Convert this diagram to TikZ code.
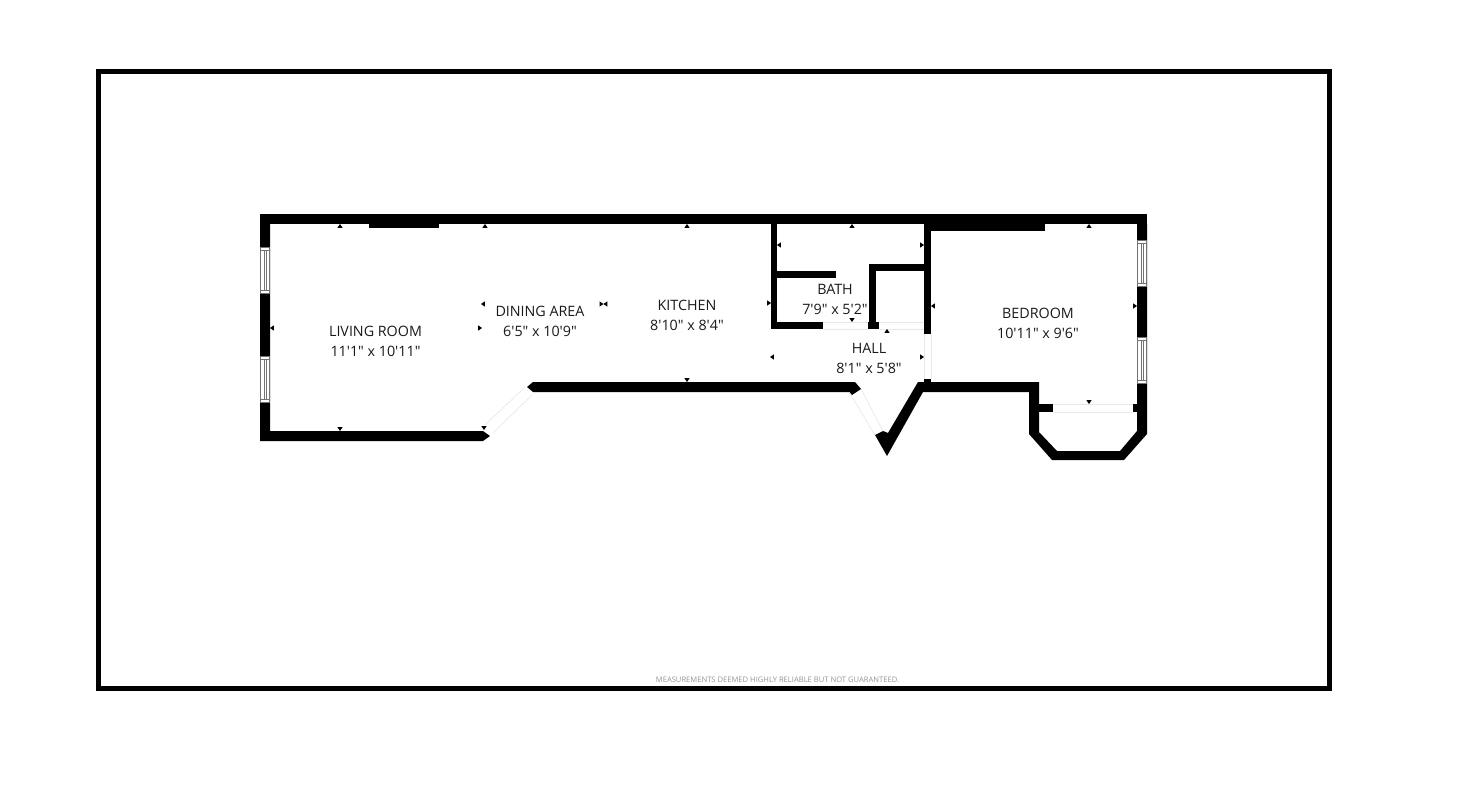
\documentclass[tikz,border=0pt]{standalone}
\usepackage{fontspec}
\newfontfamily\planfont{Open Sans}
\definecolor{doorgrey}{gray}{0.91}
\definecolor{sashgrey}{gray}{0.45}
\tikzset{
  wall/.style={fill=black},
  door/.style={draw=doorgrey,line width=0.7pt},
  room/.style={align=center,inner sep=0pt,text=black!90,font=\planfont\fontsize{14.3}{20}\selectfont},
  note/.style={inner sep=0pt,text=black!42,font=\planfont\fontsize{7.6}{9}\selectfont},
  roomtick/.pic={\fill[black] (0,0) -- (2.6,3.8) -- (-2.6,3.8) -- cycle;},
  sash/.pic={
    \fill[white] (0,0) rectangle (10,46);
    \draw[sashgrey,line width=0.6pt] (0,0) -- (10,0) (0,3) -- (10,3) (0,43) -- (10,43) (0,46) -- (10,46);
    \draw[sashgrey,line width=0.6pt] (0.3,0) -- (0.3,46) (9.7,0) -- (9.7,46) (4.5,3) -- (4.5,43) (6.5,3) -- (6.5,43);
  }
}
\begin{document}
\begin{tikzpicture}[x=1pt,y=-1pt]
      \useasboundingbox (0,0) rectangle (1467,800);
      \draw[line width=4.6pt] (98.3,71.5) rectangle (1329.6,688.6);

      \fill[wall] (260,214) rectangle (1147,224);
      \fill[wall] (369,224) rectangle (439,228);
      \fill[wall] (924,224) rectangle (1045,231);
      \fill[wall] (260,214) -- (270,214) -- (270,431) -- (483,431) -- (490,436) -- (483,441) -- (260,441) -- cycle;
      \fill[wall] (527,387) -- (533,382) -- (855,382) -- (861,389) -- (852,395) -- (849,392) -- (533,392) -- cycle;
      \fill[wall] (918,382) -- (1039,382) -- (1039,432) -- (1057,451) -- (1120,451) -- (1137,431) -- (1137,224)
        -- (1147,224) -- (1147,434) -- (1124,460) -- (1052,460) -- (1029,434) -- (1029,392) -- (923,392)
        -- (887,456) -- (875,435) -- (883,431) -- (888,433) -- cycle;
      \fill[wall] (1039,404) rectangle (1053,412);
      \fill[wall] (1133,404) rectangle (1137,412);
      \fill[wall] (924,224) rectangle (931,334);
      \fill[wall] (924,379) rectangle (931,382);
      \fill[wall] (771,224) rectangle (777,329);
      \fill[wall] (771,322) rectangle (823,329);
      \fill[wall] (777,271) rectangle (836,278);
      \fill[wall] (869,264) rectangle (876,329);
      \fill[wall] (869,264) rectangle (924,271);
      \fill[wall] (868,322) rectangle (879,329);

      \pic at (260,247) {sash};
      \pic at (260,356) {sash};
      \pic at (1137,240) {sash};
      \pic at (1137,337) {sash};

      \coordinate (entryA) at (485,425);
      \coordinate (entryB) at (525,387);
      \coordinate (entryC) at (493,433);
      \coordinate (entryD) at (532,395);
      \draw[door] (entryA) -- (entryB);
      \draw[door] (entryC) -- (entryD);
      \coordinate (hallA) at (849,392);
      \coordinate (hallB) at (875,435);
      \coordinate (hallC) at (861,389);
      \coordinate (hallD) at (883,431);
      \draw[door] (hallA) -- (hallB);
      \draw[door] (hallC) -- (hallD);
      \draw[door] (823,322) -- (868,322);
      \draw[door] (823,329) -- (868,329);
      \draw[door] (879,322) -- (924,322);
      \draw[door] (879,329) -- (924,329);
      \draw[door] (924,334) -- (924,379);
      \draw[door] (931,334) -- (931,379);
      \draw[door] (1053,404) -- (1133,404);
      \draw[door] (1053,412) -- (1133,412);

      \pic at (340,224) {roomtick};
      \pic at (485,224) {roomtick};
      \pic at (687,224) {roomtick};
      \pic at (852,224) {roomtick};
      \pic at (1089,224) {roomtick};
      \pic[rotate=180] at (340,431) {roomtick};
      \pic[rotate=180] at (484,430) {roomtick};
      \pic[rotate=180] at (687,382) {roomtick};
      \pic[rotate=180] at (852,322) {roomtick};
      \pic[rotate=180] at (1089,404) {roomtick};
      \pic at (887,329) {roomtick};
      \pic[rotate=90] at (270,328) {roomtick};
      \pic[rotate=90] at (481,304) {roomtick};
      \pic[rotate=90] at (603.5,304) {roomtick};
      \pic[rotate=90] at (770,357) {roomtick};
      \pic[rotate=90] at (777,245) {roomtick};
      \pic[rotate=90] at (931,306) {roomtick};
      \pic[rotate=-90] at (482,328) {roomtick};
      \pic[rotate=-90] at (603.5,304) {roomtick};
      \pic[rotate=-90] at (771,303) {roomtick};
      \pic[rotate=-90] at (924,245) {roomtick};
      \pic[rotate=-90] at (924,357) {roomtick};
      \pic[rotate=-90] at (1137,306) {roomtick};

      \node[room] (living) at (375.5,341) {LIVING ROOM\\11'1" x 10'11"};
      \node[room] (dining) at (540,321) {DINING AREA\\6'5" x 10'9"};
      \node[room] (kitchen) at (687,315.5) {KITCHEN\\8'10" x 8'4"};
      \node[room] (bath) at (835,299) {BATH\\7'9" x 5'2"};
      \node[room] (hall) at (869,358) {HALL\\8'1" x 5'8"};
      \node[room] (bedroom) at (1038,323) {BEDROOM\\10'11" x 9'6"};
      \node[note] (disclaimer) at (777.5,680) {MEASUREMENTS DEEMED HIGHLY RELIABLE BUT NOT GUARANTEED.};
\end{tikzpicture}
\end{document}
